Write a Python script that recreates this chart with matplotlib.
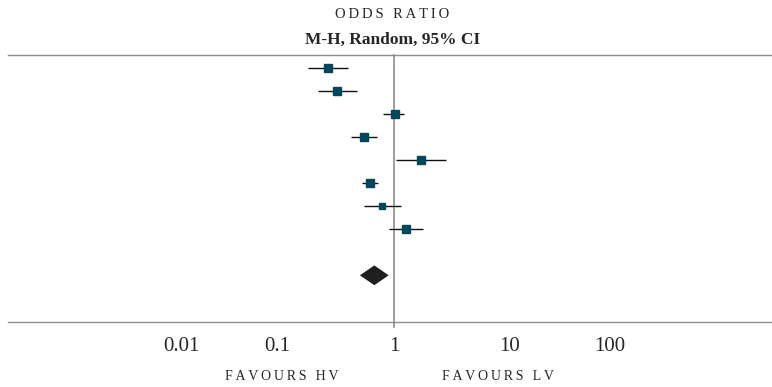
import matplotlib.pyplot as plt
import numpy as np

# study estimates (odds ratio, lower and upper 95% CI), top to bottom
odds = [0.274, 0.327, 1.01, 0.557, 1.71, 0.627, 0.794, 1.27]
ci_low = [0.183, 0.225, 0.81, 0.429, 1.04, 0.536, 0.554, 0.912]
ci_high = [0.407, 0.48, 1.22, 0.72, 2.77, 0.734, 1.15, 1.76]
weights = [13.0, 13.0, 13.0, 13.0, 13.0, 13.0, 10.0, 13.0]

# pooled estimate (random effects)
pooled = 0.679
pooled_low = 0.511
pooled_high = 0.90

tick_labels = ["0.01", "0.1", "1", "10", "100"]
label_decades = [-1.82, -1.0, 0.0, 0.99, 1.84]

plt.rcParams['font.family'] = ['Liberation Serif', 'DejaVu Serif']
text_col = '#262626'
line_col = '#8c8c8c'

fig = plt.figure(figsize=(7.72, 3.87), dpi=100)
ax = fig.add_axes([8 / 772, 1 - 322 / 387, 1 - 8 / 772, (322 - 55) / 387])

rows = np.arange(len(odds))
for i in rows:
    ax.plot([ci_low[i], ci_high[i]], [i, i], color='#111111', lw=1.0,
            solid_capstyle='butt', zorder=3)
    ax.plot(odds[i], i, marker='s', color='#02485a', ms=weights[i] * 0.39,
            mec='#02485a', zorder=4)

yd = len(odds) + 1
h = 0.43
ax.fill([pooled_low, pooled, pooled_high, pooled],
        [yd, yd - h, yd, yd + h], color='#1f1f1f', zorder=4, lw=0)

ax.set_xscale('log')
ax.set_xlim(10 ** (-386 / 117), 10 ** (378 / 117))
ax.set_ylim(11.03, -0.58)

ax.plot([1, 1], [-0.58, 11.25], color=line_col, lw=1.2, clip_on=False, zorder=2)

for s in ['left', 'right']:
    ax.spines[s].set_visible(False)
for s in ['top', 'bottom']:
    ax.spines[s].set_color(line_col)
    ax.spines[s].set_linewidth(1.0)

ax.set_yticks([])
ax.minorticks_off()
ax.set_xticks([10 ** d for d in label_decades])
ax.set_xticklabels(tick_labels, fontsize=15, color=text_col)
ax.tick_params(axis='x', length=0, pad=11)


def spaced(s):
    return "\u2009".join(s)


fig.text(392 / 772, 1 - 15 / 387, spaced("ODDS RATIO"), ha='center', va='center',
         fontsize=10.5, color=text_col)
fig.text(393 / 772, 1 - 40 / 387, "M-H, Random, 95% CI", ha='center', va='center',
         fontsize=12.5, fontweight='bold', color=text_col)
fig.text(282 / 772, 1 - 377 / 387, spaced("FAVOURS HV"), ha='center', va='center',
         fontsize=10, color=text_col)
fig.text(498 / 772, 1 - 377 / 387, spaced("FAVOURS LV"), ha='center', va='center',
         fontsize=10, color=text_col)

fig.savefig("out.png", dpi=100)
